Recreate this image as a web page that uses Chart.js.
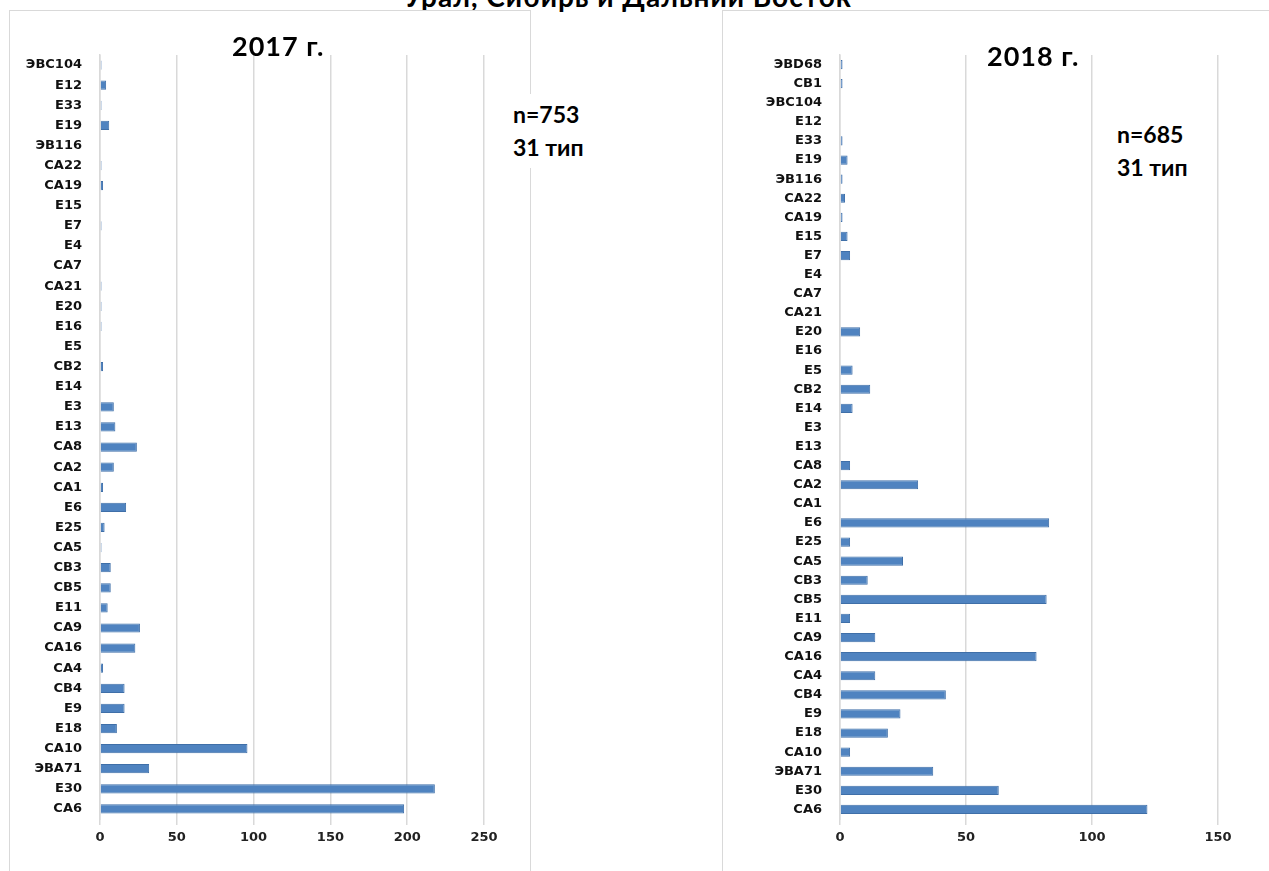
<!DOCTYPE html>
<html>
<head>
<meta charset="utf-8">
<script src="https://cdn.jsdelivr.net/npm/chart.js@4"></script>
<style>
  html, body { margin: 0; padding: 0; background: #fff; overflow: hidden; }
  body { width: 1269px; height: 871px; position: relative; }
  .panel { position: absolute; border: 1.5px solid #d9d9d9; border-bottom: none; background: #fff; }
  .title { position: absolute; font-family: Lato, "Open Sans", sans-serif; font-weight: bold; color: #000; white-space: nowrap; letter-spacing: 1px; }
  .note { position: absolute; background: #fff; font-family: Lato, "Open Sans", sans-serif; font-weight: bold; font-size: 23px; line-height: 33px; color: #000; padding: 4px 8px; }
  canvas { position: absolute; }
</style>
</head>
<body>
<div class="title" style="left:404px; top:-21px; font-size:28px;">Урал, Сибирь и Дальний Восток</div>

<div class="panel" style="left:9px; top:10px; width:520px; height:870px;"></div>
<div class="panel" style="left:722px; top:10px; width:560px; height:870px;"></div>

<canvas id="chart2017" width="519" height="860" style="left:10px; top:11px;"></canvas>
<canvas id="chart2018" width="546" height="860" style="left:723px; top:11px;"></canvas>

<div class="title" style="left:232px; top:29px; font-size:27px;">2017 г.</div>
<div class="title" style="left:987px; top:39px; font-size:27px;">2018 г.</div>

<div class="note" style="left:505px; top:94px;">n=753<br>31 тип</div>
<div class="note" style="left:1109px; top:114px;">n=685<br>31 тип</div>

<script>
var labels2017 = ['ЭВС104', 'Е12', 'Е33', 'Е19', 'ЭВ116', 'СА22', 'СА19', 'Е15', 'Е7', 'Е4', 'СА7', 'СА21', 'Е20', 'Е16', 'Е5', 'СВ2', 'Е14', 'Е3', 'Е13', 'СА8', 'СА2', 'СА1', 'Е6', 'Е25', 'СА5', 'СВ3', 'СВ5', 'Е11', 'СА9', 'СА16', 'СА4', 'СВ4', 'Е9', 'Е18', 'СА10', 'ЭВА71', 'Е30', 'СА6'];
var values2017 = [1, 4, 1, 6, 0, 1, 2, 0, 1, 0, 0, 1, 1, 1, 0, 2, 0, 9, 10, 24, 9, 2, 17, 3, 1, 7, 7, 5, 26, 23, 2, 16, 16, 11, 96, 32, 218, 198];

var labels2018 = ['ЭВD68', 'СВ1', 'ЭВС104', 'Е12', 'Е33', 'Е19', 'ЭВ116', 'СА22', 'СА19', 'Е15', 'Е7', 'Е4', 'СА7', 'СА21', 'Е20', 'Е16', 'Е5', 'СВ2', 'Е14', 'Е3', 'Е13', 'СА8', 'СА2', 'СА1', 'Е6', 'Е25', 'СА5', 'СВ3', 'СВ5', 'Е11', 'СА9', 'СА16', 'СА4', 'СВ4', 'Е9', 'Е18', 'СА10', 'ЭВА71', 'Е30', 'СА6'];
var values2018 = [1, 1, 0, 0, 1, 3, 1, 2, 1, 3, 4, 0, 0, 0, 8, 0, 5, 12, 5, 0, 0, 4, 31, 0, 83, 4, 25, 11, 82, 4, 14, 78, 14, 42, 24, 19, 4, 37, 63, 122];

var ticks2017 = { max: 250, step: 50 };
var ticks2018 = { max: 150, step: 50 };

function createTypeChart(id, labels, values, xTicks, axisWidth, padRight, barPct) {
  var ctx = document.getElementById(id).getContext('2d');
  return new Chart(ctx, {
    type: 'bar',
    data: {
      labels: labels,
      datasets: [{
        data: values,
        backgroundColor: '#4f83c0',
        borderColor: '#3f6fa8',
        borderWidth: 1,
        categoryPercentage: 1,
        barPercentage: barPct
      }]
    },
    options: {
      indexAxis: 'y',
      responsive: false,
      animation: false,
      layout: { padding: { left: 0, right: padRight, top: 44, bottom: 20 } },
      plugins: { legend: { display: false }, tooltip: { enabled: false } },
      scales: {
        x: {
          min: 0,
          max: xTicks.max,
          ticks: {
            stepSize: xTicks.step,
            padding: 5,
            color: '#222',
            font: { family: 'DejaVu Sans', weight: 'bold', size: 13 }
          },
          grid: { color: '#d9d9d9', lineWidth: 1.5, tickLength: 6, tickColor: '#d9d9d9' },
          border: { display: false },
          afterFit: function(scale) { scale.height = 32; }
        },
        y: {
          ticks: {
            padding: 18,
            autoSkip: false,
            color: '#111',
            font: { family: 'DejaVu Sans', weight: 'bold', size: 13 }
          },
          grid: { display: false, drawTicks: false },
          border: { display: true, color: '#d9d9d9', width: 1.5 },
          afterFit: function(scale) { scale.width = axisWidth; }
        }
      }
    }
  });
}

createTypeChart('chart2017', labels2017, values2017, ticks2017, 90, 45, 0.46);
createTypeChart('chart2018', labels2018, values2018, ticks2018, 117, 51, 0.48);
</script>
</body>
</html>
